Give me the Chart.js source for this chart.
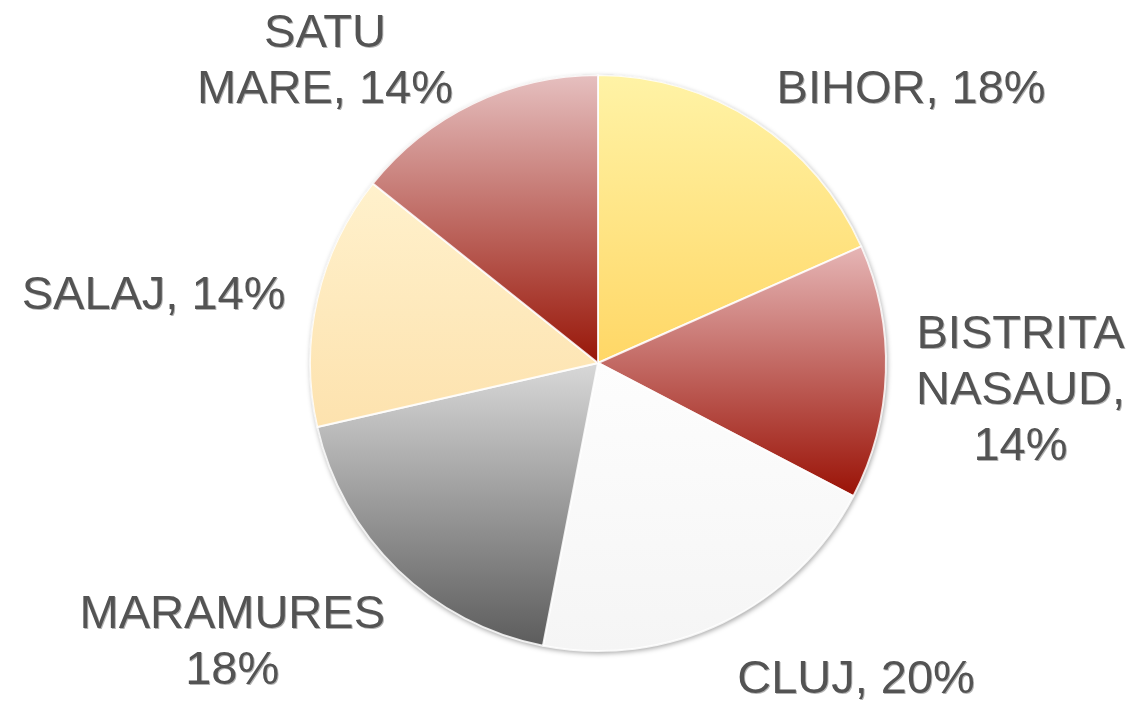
<!DOCTYPE html>
<html>
<head>
<meta charset="utf-8">
<script src="https://cdn.jsdelivr.net/npm/chart.js@4/dist/chart.umd.min.js"></script>
<style>
  html, body { margin: 0; padding: 0; background: #ffffff; }
  #wrap { width: 1133px; height: 704px; }
</style>
</head>
<body>
<div id="wrap"><canvas id="c" width="1133" height="704"></canvas></div>
<script>
// ---- data ----
const categories = ['BIHOR', 'BISTRITA NASAUD', 'CLUJ', 'MARAMURES', 'SALAJ', 'SATU MARE'];
const shares = [18, 14, 20, 18, 14, 14];

// ---- style / layout ----
const gradientStops = [
  ['#fff3a6', '#ffd766'],
  ['#e6b6b6', '#9a1206'],
  ['#fdfdfd', '#f5f5f5'],
  ['#d8d8d8', '#5c5c5c'],
  ['#fff1cc', '#fde2ae'],
  ['#e6c0c0', '#981608']
];
// label line templates ({p} percent) and position (in units of radius from centre)
const labelLayout = [
  { lines: ['BIHOR, {p}'],            pos: [1.087, -0.962] },
  { lines: ['BISTRITA', 'NASAUD,', '{p}'], pos: [1.467, 0.083] },
  { lines: ['CLUJ, {p}'],             pos: [0.896, 1.087] },
  { lines: ['MARAMURES', '{p}'],      pos: [-1.270, 0.958] },
  { lines: ['SALAJ, {p}'],            pos: [-1.543, -0.246] },
  { lines: ['SATU', 'MARE, {p}'],     pos: [-0.948, -1.059] }
];

function sliceGradient(context) {
  const chart = context.chart;
  const area = chart.chartArea;
  if (!area) return gradientStops[context.dataIndex][0];
  const i = context.dataIndex;
  const vals = context.dataset.data;
  const total = vals.reduce((a, b) => a + b, 0);
  let start = -Math.PI / 2;
  for (let k = 0; k < i; k++) start += vals[k] / total * 2 * Math.PI;
  const end = start + vals[i] / total * 2 * Math.PI;
  const cx = (area.left + area.right) / 2, cy = (area.top + area.bottom) / 2;
  const r = Math.min(area.width, area.height) / 2;
  const ys = [cy, cy + r * Math.sin(start), cy + r * Math.sin(end)];
  for (const a of [-Math.PI / 2, Math.PI / 2, 3 * Math.PI / 2]) {
    if (a > start && a < end) ys.push(cy + r * Math.sin(a));
  }
  const y0 = Math.min(...ys), y1 = Math.max(...ys);
  const g = chart.ctx.createLinearGradient(0, y0, 0, y1 + 0.01);
  g.addColorStop(0, gradientStops[i][0]);
  g.addColorStop(1, gradientStops[i][1]);
  return g;
}

const pieShadow = {
  id: 'pieShadow',
  beforeDatasetsDraw(chart) {
    const arc = chart.getDatasetMeta(0).data[0];
    if (!arc) return;
    const ctx = chart.ctx;
    ctx.save();
    ctx.beginPath();
    ctx.arc(arc.x, arc.y, arc.outerRadius + 0.5, 0, Math.PI * 2);
    ctx.fillStyle = '#a8a8a8';
    ctx.shadowColor = 'rgba(0,0,0,0.35)';
    ctx.shadowBlur = 5;
    ctx.shadowOffsetX = 1;
    ctx.shadowOffsetY = 2;
    ctx.fill();
    ctx.restore();
  }
};

const pieLabels = {
  id: 'pieLabels',
  afterDatasetsDraw(chart) {
    const meta = chart.getDatasetMeta(0);
    const vals = chart.data.datasets[0].data;
    const total = vals.reduce((a, b) => a + b, 0);
    const ctx = chart.ctx;
    const fontSize = 47, lineH = 56;
    ctx.save();
    ctx.font = fontSize + 'px "Liberation Sans", Arial, sans-serif';
    ctx.textAlign = 'center';
    ctx.textBaseline = 'alphabetic';
    meta.data.forEach((arc, i) => {
      const pct = Math.round(vals[i] / total * 100) + '%';
      const L = labelLayout[i];
      const lines = L.lines.map(s => s.replace('{p}', pct));
      const x = arc.x + L.pos[0] * arc.outerRadius;
      const yc = arc.y + L.pos[1] * arc.outerRadius;
      const capH = fontSize * 0.72;
      const firstBase = yc - (lines.length - 1) * lineH / 2 + capH / 2;
      lines.forEach((t, j) => {
        const y = firstBase + j * lineH;
        ctx.fillStyle = 'rgba(0,0,0,0.3)';
        ctx.fillText(t, x + 1, y + 1);
        ctx.fillStyle = '#535353';
        ctx.fillText(t, x, y);
      });
    });
    ctx.restore();
  }
};

new Chart(document.getElementById('c'), {
  type: 'pie',
  data: {
    labels: categories,
    datasets: [{
      data: shares,
      backgroundColor: sliceGradient,
      borderColor: 'rgba(255,255,255,0.85)',
      borderWidth: 2
    }]
  },
  options: {
    responsive: false,
    animation: false,
    rotation: 0,
    layout: { padding: { top: 74, bottom: 52, left: 309, right: 246 } },
    plugins: {
      legend: { display: false },
      tooltip: { enabled: false }
    }
  },
  plugins: [pieShadow, pieLabels]
});
</script>
</body>
</html>
